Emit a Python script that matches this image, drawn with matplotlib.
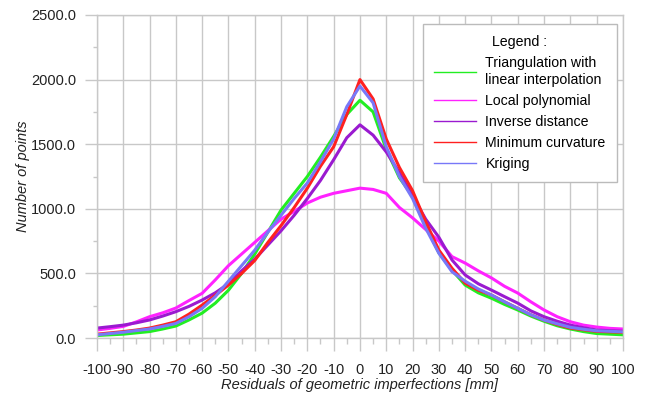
import matplotlib
matplotlib.use('Agg')
import matplotlib.pyplot as plt
from matplotlib.ticker import MultipleLocator, FormatStrFormatter

plt.rcParams['font.family'] = ['Liberation Sans', 'DejaVu Sans']
plt.rcParams['axes.unicode_minus'] = False

# residuals [mm], sampled every 5 mm
residuals = list(range(-100, 101, 5))

# number of points, one value per residual
triangulation = [20, 25, 30, 40, 50, 70, 93, 140, 193, 270, 370, 500, 650, 820, 990, 1120,
                 1250, 1400, 1560, 1730, 1840, 1750, 1460, 1240, 1100, 870, 660, 525, 410, 350,
                 308, 260, 217, 170, 130, 95, 70, 50, 35, 30, 25]
local_poly = [62, 75, 90, 125, 165, 195, 232, 290, 346, 450, 560, 650, 740, 830, 920, 980,
              1045, 1090, 1120, 1140, 1160, 1150, 1120, 1010, 930, 840, 750, 630, 580, 520,
              465, 400, 348, 280, 217, 165, 126, 100, 85, 75, 70]
inverse_dist = [77, 88, 100, 118, 140, 170, 204, 245, 294, 350, 420, 520, 610, 720, 830, 950,
                1080, 1220, 1380, 1550, 1650, 1570, 1440, 1280, 1100, 920, 780, 604, 488, 420,
                371, 320, 270, 210, 165, 130, 100, 80, 62, 57, 53]
min_curvature = [30, 40, 50, 62, 77, 100, 126, 185, 255, 330, 410, 500, 600, 740, 870, 1010,
                 1160, 1330, 1480, 1730, 2000, 1850, 1540, 1320, 1140, 900, 681, 540, 425, 370,
                 333, 280, 230, 180, 139, 105, 77, 64, 52, 48, 45]
kriging = [25, 35, 45, 58, 70, 90, 113, 165, 230, 320, 440, 560, 680, 820, 950, 1080,
           1200, 1365, 1540, 1790, 1950, 1820, 1480, 1250, 1080, 850, 656, 513, 440, 380,
           333, 280, 230, 180, 139, 110, 83, 68, 56, 52, 48]

series = [
    ('Triangulation with\nlinear interpolation', triangulation, '#22ee22'),
    ('Local polynomial', local_poly, '#ff22ff'),
    ('Inverse distance', inverse_dist, '#9a1ad0'),
    ('Minimum curvature', min_curvature, '#ff2020'),
    ('Kriging', kriging, '#7878f8'),
]

fig = plt.figure(figsize=(6.46, 3.94), dpi=100)
ax = fig.add_axes([0.150, 0.142, 0.8144, 0.820])

for label, values, color in series:
    ax.plot(residuals, values, color=color, lw=2.2, label=label)

ax.set_xlim(-100, 100)
ax.set_ylim(0, 2500)
ax.xaxis.set_major_locator(MultipleLocator(10))
ax.xaxis.set_minor_locator(MultipleLocator(5))
ax.yaxis.set_major_locator(MultipleLocator(500))
ax.yaxis.set_minor_locator(MultipleLocator(250))
ax.yaxis.set_major_formatter(FormatStrFormatter('%.1f'))

grid_col = '#c8c8c8'
ax.grid(True, which='major', color=grid_col, lw=1)
ax.set_axisbelow(True)
for sp in ax.spines.values():
    sp.set_color(grid_col)
    sp.set_linewidth(1)
ax.tick_params(which='major', length=9, width=1, color=grid_col, labelsize=10.5,
               labelcolor='#222222')
ax.tick_params(axis='x', which='major', pad=9)
ax.tick_params(axis='y', which='major', pad=6)
ax.tick_params(which='minor', length=4, width=1, color=grid_col)
ax.tick_params(axis='y', which='minor', length=3)

ax.set_xlabel('Residuals of geometric imperfections [mm]', fontsize=10.5, style='italic',
              labelpad=1, color='#222222')
ax.set_ylabel('Number of points', fontsize=10.5, style='italic', labelpad=1, color='#222222')

leg = ax.legend(title='Legend :', loc='upper right', bbox_to_anchor=(0.9886, 0.972),
                borderaxespad=0, fontsize=10.2, title_fontsize=10.2, fancybox=False,
                edgecolor='#bbbbbb', framealpha=1, handlelength=2.9, handletextpad=0.7,
                labelspacing=0.5, borderpad=0.8)
for h in leg.get_lines():
    h.set_linewidth(1)

fig.savefig('out.png', dpi=100)
